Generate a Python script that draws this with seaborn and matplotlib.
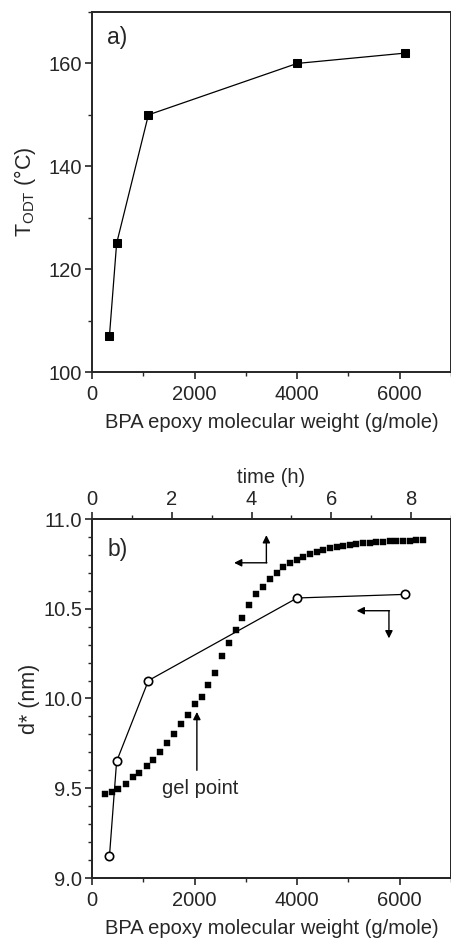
import matplotlib
matplotlib.use("Agg")
import matplotlib.pyplot as plt
from matplotlib.ticker import MultipleLocator
import seaborn as sns
import pandas as pd

# ---- data ----
mw_a = [340, 480, 1100, 4000, 6100]
todt = [107, 125, 150, 160, 162]

mw_b = [340, 480, 1100, 4000, 6100]
dstar_mw = [9.12, 9.65, 10.10, 10.56, 10.58]

time_h = [0.33, 0.49, 0.66, 0.85, 1.02, 1.18, 1.37, 1.54, 1.71, 1.88, 2.05, 2.23,
          2.40, 2.58, 2.75, 2.92, 3.08, 3.27, 3.43, 3.60, 3.77, 3.93, 4.10, 4.28,
          4.47, 4.63, 4.80, 4.97, 5.13, 5.30, 5.47, 5.63, 5.80, 5.97, 6.13, 6.30,
          6.47, 6.63, 6.80, 6.97, 7.13, 7.30, 7.47, 7.63, 7.80, 7.97, 8.13, 8.30]
dstar_t = [9.47, 9.48, 9.495, 9.526, 9.56, 9.587, 9.624, 9.66, 9.70, 9.75, 9.80, 9.856,
           9.91, 9.967, 10.01, 10.076, 10.14, 10.235, 10.31, 10.38, 10.45, 10.52, 10.58, 10.62,
           10.665, 10.70, 10.73, 10.754, 10.772, 10.79, 10.806, 10.817, 10.827, 10.836, 10.843, 10.85,
           10.855, 10.86, 10.864, 10.867, 10.870, 10.873, 10.875, 10.877, 10.879, 10.880, 10.882, 10.883]

xticks_mw = [0, 2000, 4000, 6000]
xticks_t = [0, 2, 4, 6, 8]

sns.set_style("ticks")
plt.rcParams['font.family'] = ['Liberation Sans', 'DejaVu Sans']
plt.rcParams['mathtext.fontset'] = 'custom'
plt.rcParams['mathtext.rm'] = 'Liberation Sans'
plt.rcParams['mathtext.it'] = 'Liberation Sans:italic'
plt.rcParams['axes.linewidth'] = 1.4
plt.rcParams['xtick.major.width'] = 1.2
plt.rcParams['ytick.major.width'] = 1.2
plt.rcParams['xtick.minor.width'] = 1.0
plt.rcParams['ytick.minor.width'] = 1.0
plt.rcParams['xtick.major.size'] = 5
plt.rcParams['ytick.major.size'] = 5
plt.rcParams['xtick.minor.size'] = 3
plt.rcParams['ytick.minor.size'] = 3
plt.rcParams['xtick.direction'] = 'out'
plt.rcParams['ytick.direction'] = 'out'
plt.rcParams['xtick.major.pad'] = 4
plt.rcParams['ytick.major.pad'] = 2

FS = 14.5
W, H = 452, 938
fig = plt.figure(figsize=(W / 100, H / 100), dpi=100)

def frac(l, t, r, b):
    return [l / W, 1 - b / H, (r - l) / W, (b - t) / H]

# ---- panel a ----
ax1 = fig.add_axes(frac(92, 12, 451, 372))
df_a = pd.DataFrame({"mw": mw_a, "T": todt})
sns.lineplot(data=df_a, x="mw", y="T", ax=ax1, sort=False, color="black", lw=0.9,
             marker="s", markersize=6.3, markeredgecolor="black", markerfacecolor="black")
ax1.set_xlim(0, 7000)
ax1.set_ylim(100, 170)
ax1.set_xticks(xticks_mw)
ax1.set_yticks([100, 120, 140, 160])
ax1.xaxis.set_minor_locator(MultipleLocator(1000))
ax1.yaxis.set_minor_locator(MultipleLocator(10))
ax1.tick_params(labelsize=FS)
ax1.set_xlabel("BPA epoxy molecular weight (g/mole)", fontsize=FS, labelpad=7)
ax1.set_ylabel(r"T$_{\mathregular{ODT}}$ (°C)", fontsize=FS + 1, labelpad=8)
ax1.text(0.042, 0.928, "a)", transform=ax1.transAxes, fontsize=FS + 2,
         ha="left", va="center")

# ---- panel b ----
ax2 = fig.add_axes(frac(92, 519, 451, 878))
df_b = pd.DataFrame({"mw": mw_b, "d": dstar_mw})
sns.lineplot(data=df_b, x="mw", y="d", ax=ax2, sort=False, color="black", lw=0.9,
             marker="o", markersize=6, markeredgecolor="black", markerfacecolor="white",
             markeredgewidth=1.2, zorder=3)
ax2.set_xlim(0, 7000)
ax2.set_ylim(9.0, 11.0)
ax2.set_xticks(xticks_mw)
ax2.set_yticks([9.0, 9.5, 10.0, 10.5, 11.0])
ax2.set_yticklabels(["9.0", "9.5", "10.0", "10.5", "11.0"])
ax2.xaxis.set_minor_locator(MultipleLocator(1000))
ax2.yaxis.set_minor_locator(MultipleLocator(0.1))
ax2.tick_params(labelsize=FS)
ax2.set_xlabel("BPA epoxy molecular weight (g/mole)", fontsize=FS, labelpad=7)
ax2.set_ylabel("d* (nm)", fontsize=FS + 1, labelpad=2)
ax2.text(0.042, 0.916, "b)", transform=ax2.transAxes, fontsize=FS + 2,
         ha="left", va="center")

ax3 = ax2.twiny()
df_t = pd.DataFrame({"t": time_h, "d": dstar_t})
sns.scatterplot(data=df_t, x="t", y="d", ax=ax3, marker="s", s=25, color="black",
                edgecolor="black", linewidth=0.3, zorder=2)
ax3.set_xlim(0, 9)
ax3.set_ylim(9.0, 11.0)
ax3.set_xticks(xticks_t)
ax3.xaxis.set_minor_locator(MultipleLocator(1))
ax3.tick_params(labelsize=FS, pad=2.5)
ax3.set_xlabel("time (h)", fontsize=FS, labelpad=5)
ax3.set_ylabel("")

ap = dict(arrowstyle="-|>", lw=1.0, color="black", mutation_scale=11,
          shrinkA=0, shrinkB=0)
# arrow for time series (left & up)
ax2.annotate("", xy=(3400, 10.91), xytext=(3400, 10.756), arrowprops=ap)
ax2.annotate("", xy=(2770, 10.756), xytext=(3410, 10.756), arrowprops=ap)
# arrow for molecular weight series (left & down)
ax2.annotate("", xy=(5790, 10.335), xytext=(5790, 10.489), arrowprops=ap)
ax2.annotate("", xy=(5160, 10.489), xytext=(5800, 10.489), arrowprops=ap)
# gel point
ax2.annotate("", xy=(2045, 9.925), xytext=(2045, 9.6), arrowprops=ap)
ax2.text(2100, 9.5, "gel point", fontsize=FS, ha="center", va="center")

fig.savefig("out.png", dpi=100)
